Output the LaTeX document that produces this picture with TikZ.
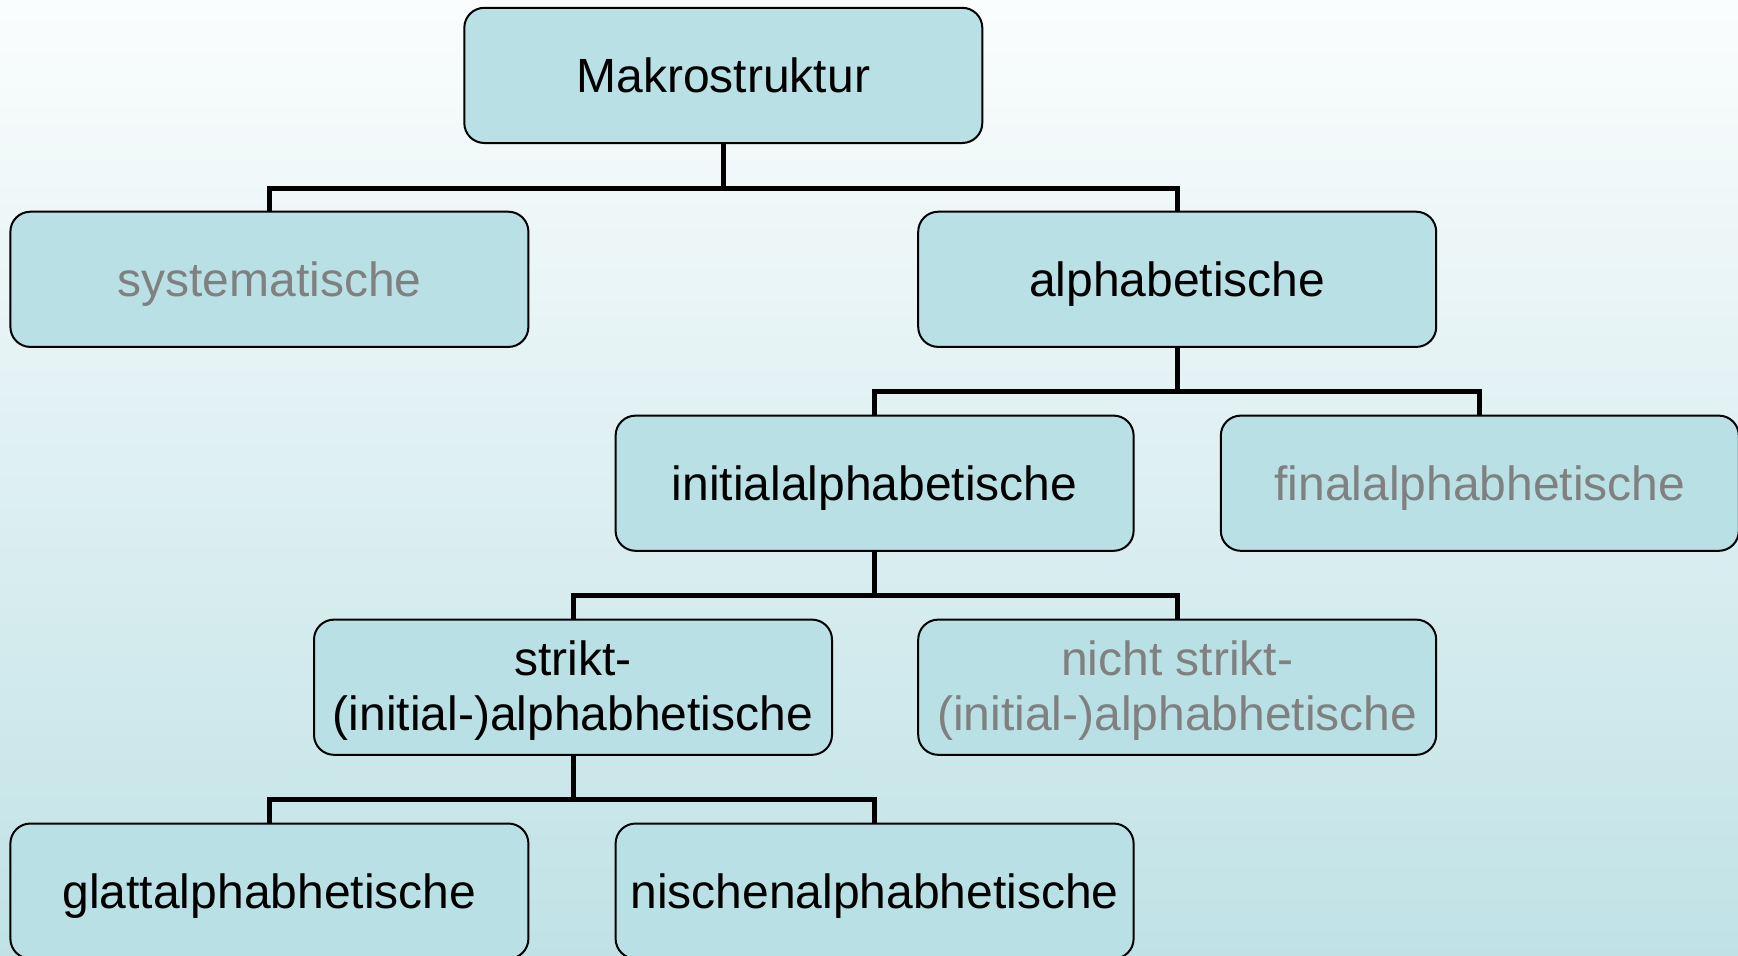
\documentclass[tikz,border=0pt]{standalone}
\usepackage{fontspec}
\setmainfont{Liberation Sans}
\definecolor{boxfill}{RGB}{185,224,228}
\definecolor{bgtop}{RGB}{251,253,253}
\definecolor{bgmid}{RGB}{222,239,241}
\definecolor{bgbottom}{RGB}{192,226,230}
\definecolor{greytext}{RGB}{128,128,128}

\begin{document}
\begin{tikzpicture}[x=0.5pt,y=0.5pt,yscale=-1,xscale=1,
	treebox/.style={draw=black,line width=1pt,fill=boxfill,rounded corners=10pt,minimum width=259pt,minimum height=67.6pt,inner sep=2pt,align=center,font=\fontsize{24}{27.5}\selectfont,text height=17.5pt,text depth=0pt},
	twolines/.style={text height=45pt,text depth=2.2pt},
	greyed/.style={text=greytext},
	link/.style={line width=2.5pt,line join=miter}]
	\useasboundingbox (0,0) rectangle (1738,955);
	\fill [top color=bgtop,middle color=bgmid,bottom color=bgbottom] (0,0) rectangle (1738,955);
	% nodes
	\node [treebox] (makro) at (723.3,75.4) {Makrostruktur};
	\node [treebox,greyed] (syst) at (269.4,279.3) {systematische};
	\node [treebox] (alpha) at (1177.2,279.3) {alphabetische};
	\node [treebox] (initial) at (874.6,483.2) {initialalphabetische};
	\node [treebox,greyed] (final) at (1479.8,483.2) {finalalphabhetische};
	\node [treebox,twolines] (strikt) at (573,687.2) {strikt-\\(initial-)alphabhetische};
	\node [treebox,twolines,greyed] (nichtstrikt) at (1177.2,687.2) {nicht strikt-\\(initial-)alphabhetische};
	\node [treebox] (glatt) at (269.4,891.1) {glattalphabhetische};
	\node [treebox] (nischen) at (874.6,891.1) {nischenalphabhetische};
	% connectors
	\draw [link] (makro.south) -- ++(0,44) -| (syst.north);
	\draw [link] (makro.south) -- ++(0,44) -| (alpha.north);
	\draw [link] (alpha.south) -- ++(0,43.5) -| (initial.north);
	\draw [link] (alpha.south) -- ++(0,43.5) -| (final.north);
	\draw [link] (initial.south) -- ++(0,44) -| (strikt.north);
	\draw [link] (initial.south) -- ++(0,44) -| (nichtstrikt.north);
	\draw [link] (strikt.south) -- ++(0,43.5) -| (glatt.north);
	\draw [link] (strikt.south) -- ++(0,43.5) -| (nischen.north);
\end{tikzpicture}
\end{document}
